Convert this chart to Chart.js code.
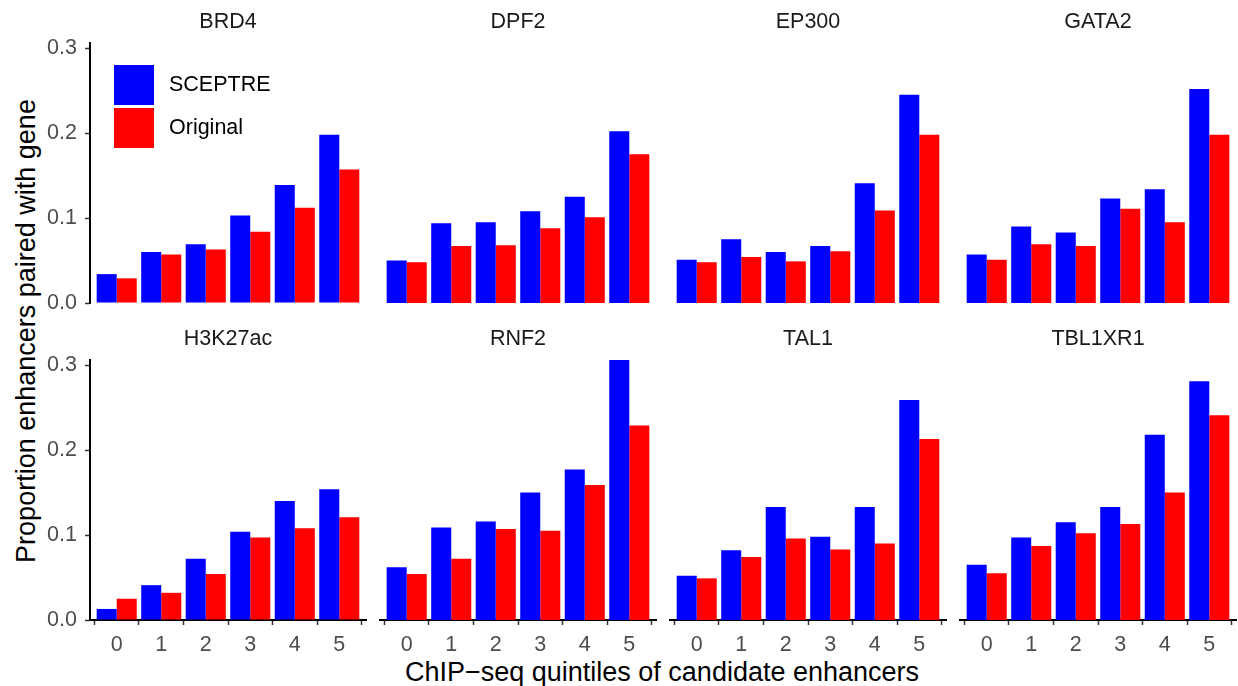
<!DOCTYPE html>
<html>
<head>
<meta charset="utf-8">
<script src="https://cdn.jsdelivr.net/npm/chart.js@4.4.1/dist/chart.umd.min.js"></script>
<style>
  body { margin: 0; background: #fff; width: 1238px; height: 686px; position: relative; overflow: hidden; font-family: "Liberation Sans", Arial, sans-serif; }
  canvas { position: absolute; }
  .axis-title { position: absolute; color: #000; font-size: 27px; white-space: nowrap; transform: translate(-50%, -50%); }
</style>
</head>
<body>
<div class="axis-title" style="left:662px; top:672px;">ChIP−seq quintiles of candidate enhancers</div>
<div class="axis-title" style="left:26px; top:331px; transform: translate(-50%, -50%) rotate(-90deg);">Proportion enhancers paired with gene</div>
<script>
// quintiles on the x axis, same for every panel
const quintiles = [0, 1, 2, 3, 4, 5];
const quintileLabels = ['0', '1', '2', '3', '4', '5'];
const yTicks = [0, 0.1, 0.2, 0.3];
const yMax = 0.306;

const seriesNames = ['SCEPTRE', 'Original'];
const seriesColors = ['#0000FF', '#FF0000'];

// proportion of enhancers paired with a gene, per panel
const sceptreBRD4 = [0.034, 0.060, 0.069, 0.103, 0.139, 0.198];
const originalBRD4 = [0.029, 0.057, 0.063, 0.084, 0.112, 0.157];
const sceptreDPF2 = [0.050, 0.094, 0.095, 0.108, 0.125, 0.202];
const originalDPF2 = [0.048, 0.067, 0.068, 0.088, 0.101, 0.175];
const sceptreEP300 = [0.051, 0.075, 0.060, 0.067, 0.141, 0.245];
const originalEP300 = [0.048, 0.054, 0.049, 0.061, 0.109, 0.198];
const sceptreGATA2 = [0.057, 0.090, 0.083, 0.123, 0.134, 0.252];
const originalGATA2 = [0.051, 0.069, 0.067, 0.111, 0.095, 0.198];
const sceptreH3K27ac = [0.013, 0.041, 0.072, 0.104, 0.140, 0.154];
const originalH3K27ac = [0.025, 0.032, 0.054, 0.097, 0.108, 0.121];
const sceptreRNF2 = [0.062, 0.109, 0.116, 0.150, 0.177, 0.306];
const originalRNF2 = [0.054, 0.072, 0.107, 0.105, 0.159, 0.229];
const sceptreTAL1 = [0.052, 0.082, 0.133, 0.098, 0.133, 0.259];
const originalTAL1 = [0.049, 0.074, 0.096, 0.083, 0.090, 0.213];
const sceptreTBL1XR1 = [0.065, 0.097, 0.115, 0.133, 0.218, 0.281];
const originalTBL1XR1 = [0.055, 0.087, 0.102, 0.113, 0.150, 0.241];

const panels = [
  ['BRD4', sceptreBRD4, originalBRD4],
  ['DPF2', sceptreDPF2, originalDPF2],
  ['EP300', sceptreEP300, originalEP300],
  ['GATA2', sceptreGATA2, originalGATA2],
  ['H3K27ac', sceptreH3K27ac, originalH3K27ac],
  ['RNF2', sceptreRNF2, originalRNF2],
  ['TAL1', sceptreTAL1, originalTAL1],
  ['TBL1XR1', sceptreTBL1XR1, originalTBL1XR1]
];

const FONT = '"Liberation Sans", Arial, sans-serif';

// facet layout (pixels)
const colX = [90, 380, 670, 960];
const rowY = [43, 360];
const panelW = 276, panelH = 260;
const padL = 70, padT = 45, padR = 6, padB = 50;
const yAxisW = 45, xAxisH = 42;

// strip title above each panel
const stripPlugin = {
  id: 'strip',
  afterDraw(chart, args, opts) {
    const { ctx, chartArea } = chart;
    ctx.save();
    ctx.fillStyle = '#1A1A1A';
    ctx.font = '21.5px ' + FONT;
    ctx.textAlign = 'center';
    ctx.textBaseline = 'middle';
    ctx.fillText(opts.text, (chartArea.left + chartArea.right) / 2, chartArea.top - 21);
    ctx.restore();
  }
};

// legend inside the first panel, like ggplot's legend.position
const insideLegend = {
  id: 'insideLegend',
  afterDraw(chart, args, opts) {
    if (!opts.show) return;
    const { ctx, chartArea } = chart;
    ctx.save();
    ctx.font = '21.5px ' + FONT;
    ctx.textBaseline = 'middle';
    chart.data.datasets.forEach((ds, i) => {
      const x = chartArea.left + 24;
      const y = chartArea.top + 22 + i * 43;
      ctx.fillStyle = ds.backgroundColor;
      ctx.fillRect(x, y, 40, 40);
      ctx.fillStyle = '#000';
      ctx.fillText(ds.label, x + 55, y + 20);
    });
    ctx.restore();
  }
};

panels.forEach((p, idx) => {
  const row = Math.floor(idx / 4), col = idx % 4;
  const showY = col === 0;
  const showX = row === 1;

  const canvas = document.createElement('canvas');
  canvas.width = padL + panelW + padR;
  canvas.height = padT + panelH + padB;
  canvas.style.left = (colX[col] - padL) + 'px';
  canvas.style.top = (rowY[row] - padT) + 'px';
  document.body.appendChild(canvas);

  new Chart(canvas.getContext('2d'), {
    type: 'bar',
    data: {
      datasets: [p[1], p[2]].map((vals, k) => ({
        label: seriesNames[k],
        data: quintiles.map((q, i) => ({ x: q, y: vals[i] })),
        backgroundColor: seriesColors[k],
        borderWidth: 0,
        barPercentage: 1,
        categoryPercentage: 0.9
      }))
    },
    options: {
      responsive: false,
      animation: false,
      devicePixelRatio: 1,
      layout: {
        padding: {
          left: padL - (showY ? yAxisW : 0),
          top: padT,
          right: padR,
          bottom: padB - (showX ? xAxisH : 0)
        }
      },
      scales: {
        x: {
          type: 'linear',
          min: -0.6,
          max: 5.6,
          offset: false,
          display: showX,
          afterBuildTicks: s => { s.ticks = quintiles.map(v => ({ value: v })); },
          afterFit: s => { s.height = showX ? xAxisH : 0; },
          ticks: {
            color: '#4D4D4D',
            font: { size: 21.5, family: FONT },
            padding: 7,
            maxRotation: 0,
            callback: v => quintileLabels[quintiles.indexOf(v)]
          },
          grid: { display: true, drawOnChartArea: false, drawTicks: true, tickLength: 5, tickColor: '#333333', tickWidth: 1.5 },
          border: { display: true, color: '#000', width: 2 }
        },
        y: {
          type: 'linear',
          min: 0,
          max: yMax,
          display: showY,
          afterBuildTicks: s => { s.ticks = yTicks.map(v => ({ value: v })); },
          afterFit: s => { s.width = showY ? yAxisW : 0; },
          ticks: {
            color: '#4D4D4D',
            font: { size: 21.5, family: FONT },
            padding: 8,
            callback: v => v.toFixed(1)
          },
          grid: { display: true, drawOnChartArea: false, drawTicks: true, tickLength: 5, tickColor: '#333333', tickWidth: 1.5 },
          border: { display: true, color: '#000', width: 2 }
        }
      },
      plugins: {
        legend: { display: false },
        tooltip: { enabled: false },
        strip: { text: p[0] },
        insideLegend: { show: idx === 0 }
      }
    },
    plugins: [stripPlugin, insideLegend]
  });
});
</script>
</body>
</html>
